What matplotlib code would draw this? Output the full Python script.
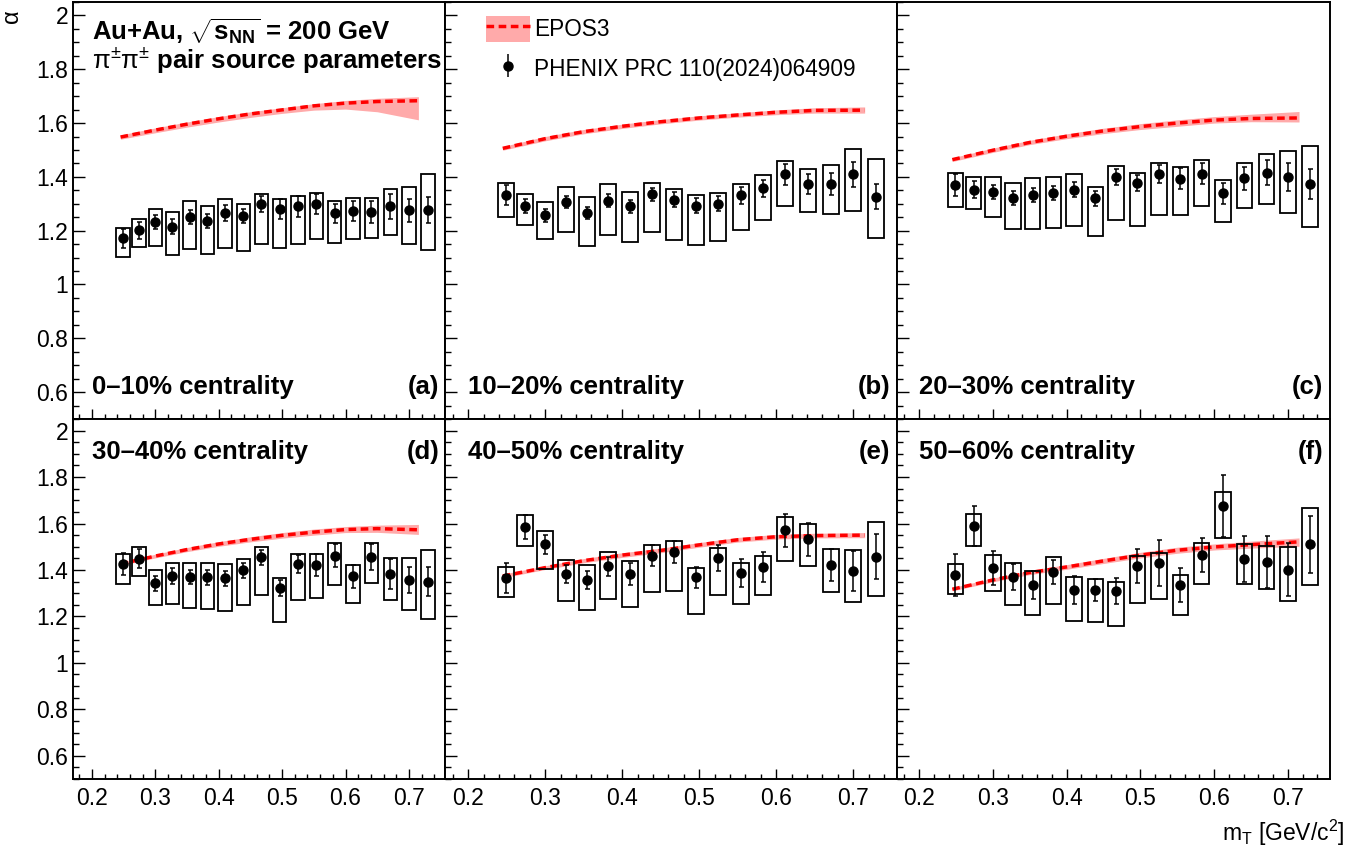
"""Au+Au 200 GeV: параметр alpha пар pi+-pi+- против m_T, PHENIX vs EPOS3."""
import matplotlib
matplotlib.use("Agg")
import matplotlib.pyplot as plt  # noqa: E402
from matplotlib.lines import Line2D  # noqa: E402
from matplotlib.patches import Patch  # noqa: E402
from matplotlib.ticker import MultipleLocator  # noqa: E402

plt.rcParams["font.family"] = ["Liberation Sans", "DejaVu Sans"]
plt.rcParams["mathtext.fontset"] = "custom"
plt.rcParams["mathtext.rm"] = "Liberation Sans"
plt.rcParams["mathtext.bf"] = "Liberation Sans:bold"
plt.rcParams["mathtext.it"] = "Liberation Sans:italic"

# ---------- данные ----------
mt = [0.249, 0.274, 0.300, 0.327, 0.354, 0.382, 0.410, 0.439, 0.467,
      0.496, 0.525, 0.554, 0.583, 0.612, 0.641, 0.671, 0.700, 0.730]

alpha_a = [1.172, 1.201, 1.231, 1.215, 1.249, 1.235, 1.265, 1.256, 1.298,
           1.281, 1.290, 1.298, 1.264, 1.273, 1.269, 1.290, 1.275, 1.277]
stat_a = [0.036, 0.031, 0.026, 0.028, 0.026, 0.026, 0.030, 0.026, 0.030,
          0.036, 0.038, 0.037, 0.036, 0.037, 0.041, 0.046, 0.044, 0.049]
syshi_a = [1.209, 1.242, 1.279, 1.270, 1.310, 1.290, 1.319, 1.299, 1.338,
           1.319, 1.330, 1.340, 1.310, 1.321, 1.322, 1.354, 1.362, 1.410]
syslo_a = [1.101, 1.138, 1.142, 1.111, 1.131, 1.112, 1.137, 1.125, 1.151,
           1.136, 1.151, 1.170, 1.156, 1.168, 1.173, 1.184, 1.152, 1.128]

alpha_b = [1.333, 1.290, 1.257, 1.306, 1.265, 1.312, 1.290, 1.335, 1.315,
           1.293, 1.300, 1.331, 1.358, 1.409, 1.373, 1.375, 1.409, 1.327]
stat_b = [0.036, 0.026, 0.023, 0.023, 0.023, 0.025, 0.025, 0.024, 0.027,
          0.027, 0.028, 0.031, 0.031, 0.038, 0.037, 0.041, 0.047, 0.045]
syshi_b = [1.377, 1.335, 1.307, 1.363, 1.325, 1.373, 1.343, 1.379, 1.356,
           1.331, 1.340, 1.375, 1.407, 1.460, 1.428, 1.443, 1.505, 1.465]
syslo_b = [1.252, 1.221, 1.169, 1.195, 1.144, 1.183, 1.158, 1.195, 1.167,
           1.146, 1.160, 1.201, 1.241, 1.293, 1.268, 1.263, 1.273, 1.173]

alpha_c = [1.370, 1.353, 1.344, 1.320, 1.333, 1.340, 1.353, 1.320, 1.398,
           1.377, 1.411, 1.393, 1.412, 1.340, 1.394, 1.415, 1.401, 1.374]
stat_c = [0.040, 0.031, 0.027, 0.026, 0.027, 0.027, 0.028, 0.027, 0.030,
          0.031, 0.034, 0.039, 0.038, 0.039, 0.044, 0.047, 0.052, 0.057]
syshi_c = [1.414, 1.398, 1.398, 1.377, 1.395, 1.401, 1.410, 1.364, 1.442,
           1.415, 1.453, 1.438, 1.463, 1.389, 1.451, 1.484, 1.498, 1.516]
syslo_c = [1.289, 1.281, 1.251, 1.207, 1.205, 1.209, 1.216, 1.181, 1.241,
           1.219, 1.259, 1.257, 1.290, 1.231, 1.286, 1.299, 1.265, 1.212]

alpha_d = [1.424, 1.449, 1.343, 1.373, 1.368, 1.369, 1.365, 1.399, 1.455,
           1.324, 1.425, 1.422, 1.462, 1.372, 1.457, 1.382, 1.357, 1.349]
stat_d = [0.047, 0.040, 0.032, 0.034, 0.030, 0.032, 0.032, 0.032, 0.032,
          0.034, 0.039, 0.047, 0.048, 0.049, 0.056, 0.064, 0.056, 0.062]
syshi_d = [1.470, 1.500, 1.398, 1.432, 1.432, 1.432, 1.424, 1.447, 1.501,
           1.365, 1.468, 1.468, 1.514, 1.422, 1.517, 1.452, 1.452, 1.488]
syslo_d = [1.339, 1.373, 1.250, 1.255, 1.237, 1.232, 1.225, 1.251, 1.291,
           1.175, 1.270, 1.281, 1.334, 1.257, 1.345, 1.270, 1.227, 1.189]

alpha_e = [1.366, 1.585, 1.510, 1.383, 1.356, 1.415, 1.383, 1.461, 1.478,
           1.369, 1.451, 1.388, 1.414, 1.570, 1.533, 1.421, 1.395, 1.457]
stat_e = [0.064, 0.053, 0.041, 0.039, 0.040, 0.042, 0.048, 0.045, 0.047,
          0.045, 0.055, 0.060, 0.065, 0.071, 0.071, 0.068, 0.086, 0.098]
syshi_e = [1.411, 1.636, 1.567, 1.442, 1.422, 1.478, 1.439, 1.508, 1.523,
           1.408, 1.495, 1.431, 1.462, 1.626, 1.596, 1.491, 1.488, 1.608]
syslo_e = [1.284, 1.503, 1.403, 1.265, 1.227, 1.274, 1.242, 1.307, 1.311,
           1.212, 1.294, 1.252, 1.291, 1.439, 1.416, 1.304, 1.260, 1.286]

alpha_f = [1.379, 1.589, 1.409, 1.369, 1.334, 1.392, 1.314, 1.314, 1.309,
           1.418, 1.430, 1.334, 1.465, 1.675, 1.448, 1.434, 1.402, 1.510]
stat_f = [0.089, 0.085, 0.073, 0.057, 0.061, 0.052, 0.060, 0.049, 0.057,
          0.072, 0.099, 0.073, 0.072, 0.132, 0.099, 0.111, 0.116, 0.121]
syshi_f = [1.424, 1.642, 1.464, 1.428, 1.397, 1.457, 1.369, 1.359, 1.349,
           1.458, 1.471, 1.379, 1.517, 1.737, 1.510, 1.504, 1.500, 1.668]
syslo_f = [1.296, 1.504, 1.310, 1.251, 1.205, 1.255, 1.181, 1.175, 1.159,
           1.257, 1.274, 1.204, 1.340, 1.539, 1.339, 1.317, 1.267, 1.335]

# EPOS3: центральная кривая и полоса
epos_mt = [0.245, 0.30, 0.35, 0.40, 0.45, 0.50, 0.55, 0.60, 0.65, 0.715]
epos_a = [1.548, 1.574, 1.596, 1.616, 1.634, 1.649, 1.664, 1.674, 1.680, 1.683]
epos_lo_a = [1.540, 1.564, 1.585, 1.604, 1.621, 1.636, 1.648, 1.652, 1.642, 1.612]
epos_hi_a = [1.556, 1.582, 1.604, 1.624, 1.642, 1.657, 1.672, 1.684, 1.692, 1.698]
epos_b = [1.506, 1.542, 1.568, 1.588, 1.605, 1.619, 1.630, 1.640, 1.647, 1.648]
epos_lo_b = [1.499, 1.534, 1.560, 1.580, 1.597, 1.611, 1.622, 1.631, 1.637, 1.637]
epos_hi_b = [1.513, 1.550, 1.576, 1.596, 1.613, 1.627, 1.638, 1.649, 1.657, 1.660]
epos_c = [1.464, 1.499, 1.528, 1.551, 1.571, 1.587, 1.600, 1.611, 1.617, 1.619]
epos_lo_c = [1.457, 1.491, 1.520, 1.542, 1.561, 1.576, 1.588, 1.600, 1.605, 1.604]
epos_hi_c = [1.471, 1.507, 1.536, 1.560, 1.581, 1.598, 1.612, 1.624, 1.633, 1.643]
epos_d = [1.426, 1.460, 1.488, 1.512, 1.532, 1.549, 1.563, 1.574, 1.578, 1.573]
epos_lo_d = [1.419, 1.452, 1.479, 1.502, 1.521, 1.537, 1.550, 1.561, 1.562, 1.553]
epos_hi_d = [1.433, 1.468, 1.497, 1.522, 1.543, 1.561, 1.576, 1.587, 1.593, 1.596]
epos_e = [1.374, 1.410, 1.440, 1.464, 1.484, 1.508, 1.530, 1.543, 1.548, 1.550]
epos_lo_e = [1.366, 1.402, 1.431, 1.454, 1.474, 1.498, 1.520, 1.533, 1.538, 1.539]
epos_hi_e = [1.382, 1.418, 1.449, 1.474, 1.494, 1.518, 1.540, 1.553, 1.558, 1.561]
epos_f = [1.317, 1.357, 1.389, 1.413, 1.439, 1.464, 1.485, 1.499, 1.509, 1.521]
epos_lo_f = [1.310, 1.349, 1.380, 1.403, 1.428, 1.452, 1.472, 1.486, 1.494, 1.502]
epos_hi_f = [1.324, 1.365, 1.398, 1.423, 1.450, 1.476, 1.498, 1.512, 1.524, 1.538]

centralities = ["0–10%", "10–20%", "20–30%", "30–40%", "40–50%", "50–60%"]
tags = ["(a)", "(b)", "(c)", "(d)", "(e)", "(f)"]

panels = [
    (alpha_a, stat_a, syshi_a, syslo_a, epos_a, epos_lo_a, epos_hi_a),
    (alpha_b, stat_b, syshi_b, syslo_b, epos_b, epos_lo_b, epos_hi_b),
    (alpha_c, stat_c, syshi_c, syslo_c, epos_c, epos_lo_c, epos_hi_c),
    (alpha_d, stat_d, syshi_d, syslo_d, epos_d, epos_lo_d, epos_hi_d),
    (alpha_e, stat_e, syshi_e, syslo_e, epos_e, epos_lo_e, epos_hi_e),
    (alpha_f, stat_f, syshi_f, syslo_f, epos_f, epos_lo_f, epos_hi_f),
]

# ---------- рисунок ----------
W, H = 1355, 856
fig = plt.figure(figsize=(W / 100, H / 100), dpi=100)

cols = [(73, 445), (445, 897), (897, 1330)]
rows = [(2, 419), (419, 779)]
BAND = "#ffaaaa"
axes = []
for r, (yt, yb) in enumerate(rows):
    for c, (xl, xr) in enumerate(cols):
        ax = fig.add_axes([xl / W, 1 - yb / H, (xr - xl) / W, (yb - yt) / H])
        axes.append(ax)

for i, ax in enumerate(axes):
    alpha, stat, shi, slo, ep, ep_lo, ep_hi = panels[i]
    ax.fill_between(epos_mt, ep_lo, ep_hi, color=BAND, lw=0, zorder=1)
    ax.plot(epos_mt, ep, color="red", lw=2.5, dashes=(2.2, 1.3), zorder=2)
    ax.bar(mt, [h - l for h, l in zip(shi, slo)], bottom=slo, width=0.021,
           fill=False, edgecolor="black", lw=1.3, zorder=3)
    ax.errorbar(mt, alpha, yerr=stat, fmt="o", color="black", ms=6.5,
                elinewidth=1.1, capsize=1.8, capthick=1.1, zorder=4)

    ax.set_xlim(0.17, 0.757)
    ax.set_ylim(0.5, 2.05)
    ax.xaxis.set_major_locator(MultipleLocator(0.1))
    ax.xaxis.set_minor_locator(MultipleLocator(0.02))
    ax.yaxis.set_major_locator(MultipleLocator(0.2))
    ax.yaxis.set_minor_locator(MultipleLocator(0.05))
    ax.tick_params(which="both", direction="in", width=1.0, labelsize=16.5)
    ax.tick_params(axis="y", which="major", length=8.6)
    ax.tick_params(axis="y", which="minor", length=4.3)
    ax.tick_params(axis="x", which="major", length=7.2)
    ax.tick_params(axis="x", which="minor", length=3.6)
    ax.tick_params(axis="x", pad=6)
    for s in ax.spines.values():
        s.set_linewidth(1.4)
    ax.yaxis.set_major_formatter(plt.FuncFormatter(lambda v, p: f"{v:g}"))
    ax.xaxis.set_major_formatter(plt.FuncFormatter(lambda v, p: f"{v:g}"))
    if i < 3:
        ax.tick_params(axis="x", labelbottom=False)
    if i % 3 != 0:
        ax.tick_params(axis="y", labelleft=False)

    ylab = 0.619 if i < 3 else 1.909
    ax.text(0.2, ylab, f"{centralities[i]} centrality", fontsize=18.5,
            fontweight="bold", ha="left", va="center")
    ax.text(0.748, ylab, tags[i], fontsize=18.5, fontweight="bold",
            ha="right", va="center")

axes[0].text(0.2, 1.94, r"Au+Au, $\sqrt{\mathbf{s}_{\mathbf{NN}}}$ = 200 GeV",
             fontsize=18.5, fontweight="bold", ha="left", va="center")
axes[0].text(0.2, 1.835, r"$\mathrm{π}^{\pm}\mathrm{π}^{\pm}$ pair source parameters",
             fontsize=18.5, fontweight="bold", ha="left", va="center")

# легенда
h_epos = (Patch(facecolor=BAND, edgecolor="none"),
          Line2D([], [], color="red", lw=2.5, dashes=(2.2, 1.3)))
h_data = axes[1].errorbar([], [], yerr=[], fmt="o", color="black", ms=6.5,
                          elinewidth=1.1, capsize=1.8, capthick=1.1)
axes[1].legend([h_epos, h_data], ["EPOS3", "PHENIX PRC 110(2024)064909"],
               loc="upper left", bbox_to_anchor=(0.055, 1.005), frameon=False,
               fontsize=16.3, handlelength=1.95, handleheight=1.4,
               handletextpad=0.2, labelspacing=0.6, borderpad=0.2)

fig.text(12 / W, 1 - 16 / H, "α", rotation=90, fontsize=17,
         ha="center", va="center")
fig.text(1345 / W, 1 - 833 / H, r"m$_{\mathrm{T}}$ [GeV/c$^{\mathrm{2}}$]",
         fontsize=16.5, ha="right", va="center")

fig.savefig("out.png", dpi=100)
